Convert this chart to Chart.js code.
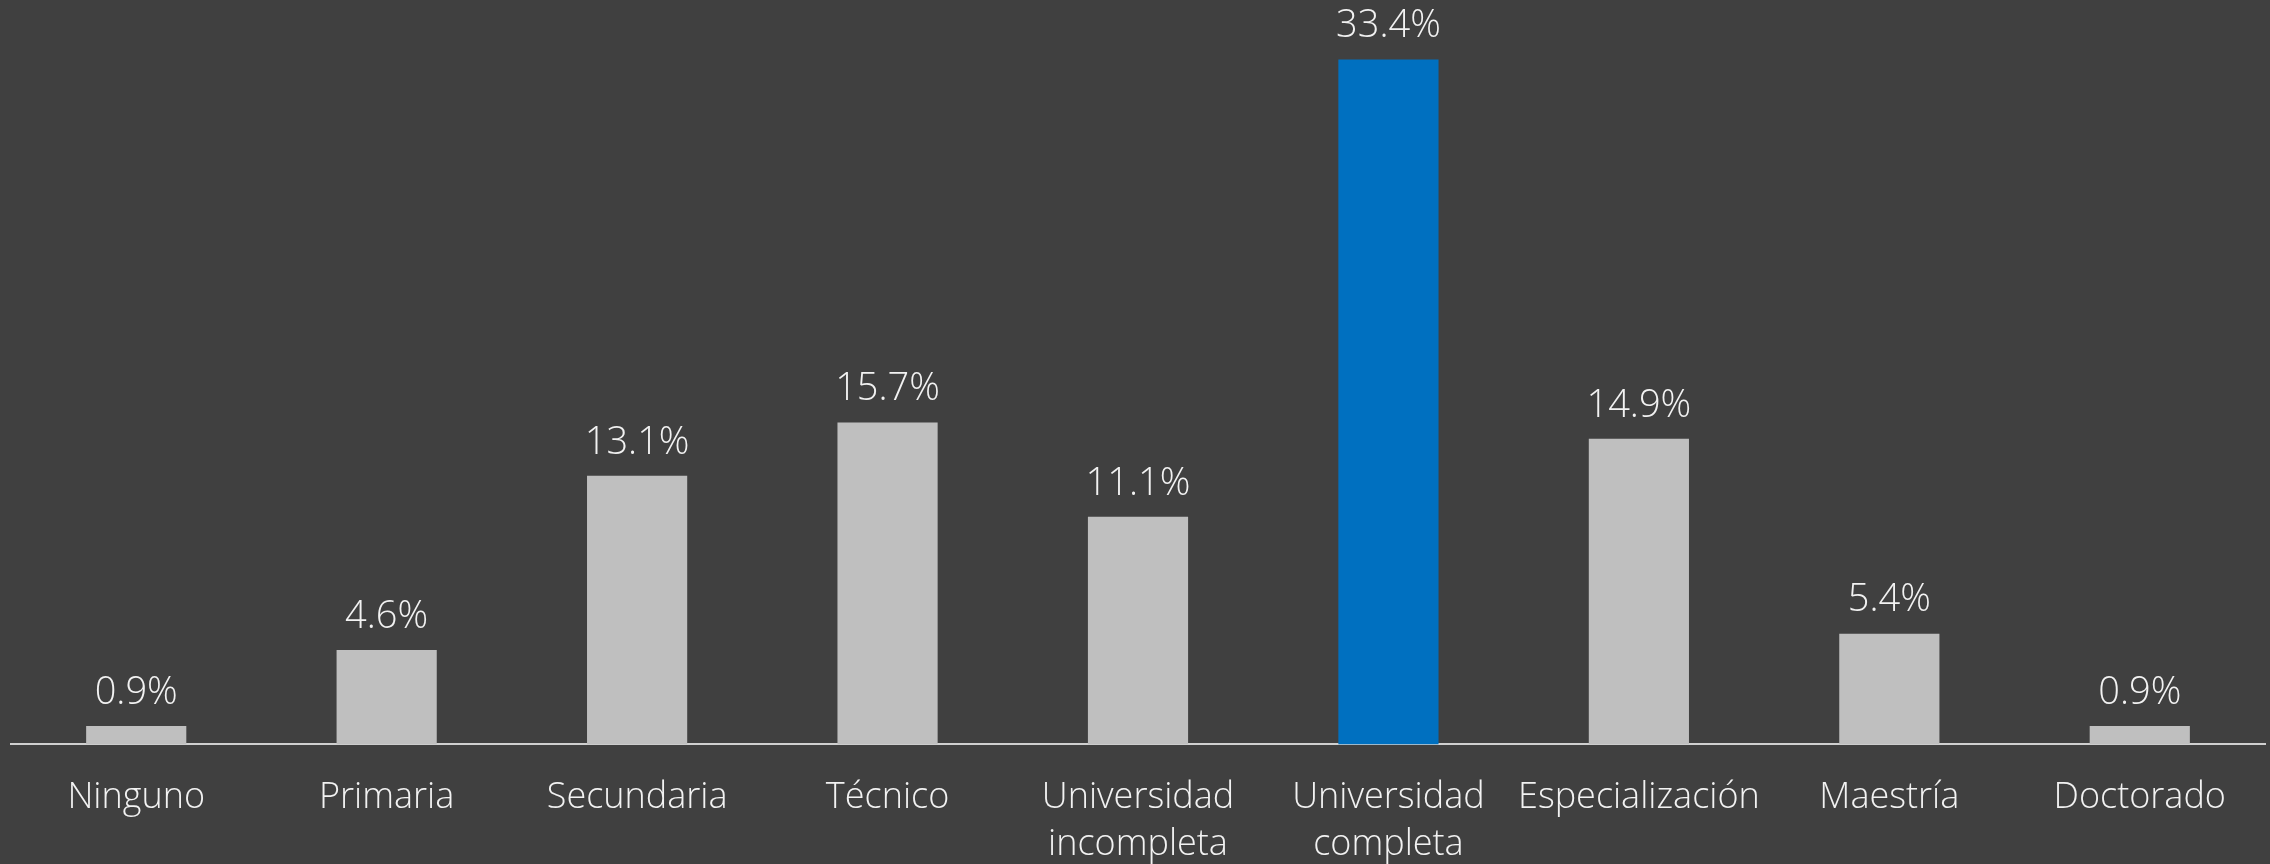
<!DOCTYPE html>
<html>
<head>
<meta charset="utf-8">
<script src="https://cdn.jsdelivr.net/npm/chart.js@4.4.1/dist/chart.umd.min.js"></script>
<style>
  html, body { margin: 0; padding: 0; background: #404040; }
  canvas { display: block; }
</style>
</head>
<body>
<canvas id="myChart" width="2270" height="864"></canvas>
<script>
// niveles educativos
const categories = [
  "Ninguno", "Primaria", "Secundaria", "Técnico",
  ["Universidad", "incompleta"], ["Universidad", "completa"],
  "Especialización", "Maestría", "Doctorado"
];
const values = [0.9, 4.6, 13.1, 15.7, 11.1, 33.4, 14.9, 5.4, 0.9];
const highlightIndex = 5;

const FONT = "'Open Sans', 'Noto Sans', sans-serif";

const barColors = values.map((v, i) => i === highlightIndex ? "#0070C0" : "#BFBFBF");

// etiquetas de valor encima de las barras
const valueLabels = {
  id: "valueLabels",
  afterDatasetsDraw(chart) {
    const ctx = chart.ctx;
    const meta = chart.getDatasetMeta(0);
    ctx.save();
    ctx.fillStyle = "#F2F2F2";
    ctx.font = "300 38px " + FONT;
    ctx.textAlign = "center";
    ctx.textBaseline = "bottom";
    meta.data.forEach((bar, i) => {
      ctx.fillText(values[i].toFixed(1) + "%", bar.x, bar.y - 14);
    });
    ctx.restore();
  }
};

new Chart(document.getElementById("myChart"), {
  type: "bar",
  data: {
    labels: categories,
    datasets: [{
      data: values,
      backgroundColor: barColors,
      borderWidth: 0,
      categoryPercentage: 1.0,
      barPercentage: 0.4
    }]
  },
  options: {
    responsive: false,
    animation: false,
    layout: { padding: { left: 11, right: 5, top: 0, bottom: -34 } },
    plugins: {
      legend: { display: false },
      tooltip: { enabled: false }
    },
    scales: {
      x: {
        grid: { display: false, drawTicks: false },
        border: { display: true, color: "#D0D0D0", width: 2 },
        ticks: {
          color: "#F2F2F2",
          font: { family: FONT, size: 36, weight: 300, lineHeight: 1.3 },
          padding: 30,
          maxRotation: 0,
          autoSkip: false
        }
      },
      y: {
        display: false,
        min: 0,
        max: 36.3
      }
    }
  },
  plugins: [valueLabels]
});
</script>
</body>
</html>
